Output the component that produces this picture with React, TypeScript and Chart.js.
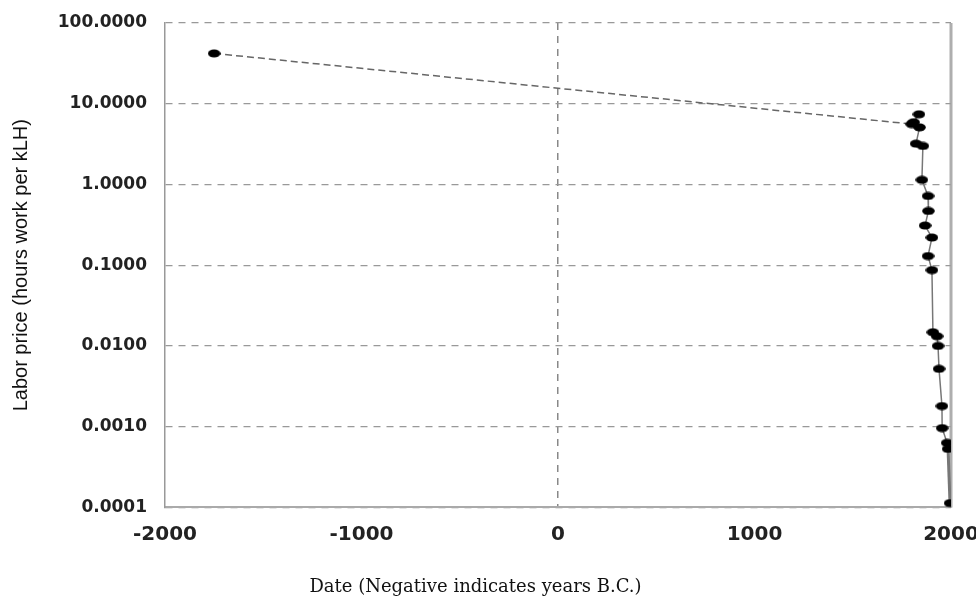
import React, { useEffect, useRef } from "react";
import { Chart, registerables } from "chart.js";

Chart.register(...registerables);

// Data (year, labor price in hours of work per kLH)
const years = [
  -1750, 1800, 1837, 1810, 1840, 1822, 1857, 1852, 1883, 1885, 1868, 1903,
  1883, 1903, 1908, 1929, 1934, 1939, 1954, 1955, 1980, 1985, 1995,
];
const laborPrice = [
  42, 5.6, 7.4, 5.9, 5.1, 3.2, 3.0, 1.14, 0.72, 0.47, 0.31, 0.22, 0.13, 0.087,
  0.0148, 0.0132, 0.01, 0.0052, 0.0018, 0.00096, 0.00063, 0.00053, 0.000113,
];
const yTickValues = [0.0001, 0.001, 0.01, 0.1, 1, 10, 100];
const xTickValues = [-2000, -1000, 0, 1000, 2000];
const yTitle = "Labor price (hours work per kLH)";
const xTitle = "Date (Negative indicates years B.C.)";

function makeDot(): HTMLCanvasElement {
  const c = document.createElement("canvas");
  c.width = 13;
  c.height = 9;
  const g = c.getContext("2d")!;
  g.fillStyle = "#000";
  g.beginPath();
  g.ellipse(6.5, 4.5, 6.3, 4, 0, 0, Math.PI * 2);
  g.fill();
  return c;
}

const rightEdgeLine = {
  id: "rightEdgeLine",
  beforeDatasetsDraw(chart: any) {
    const { ctx, chartArea, scales } = chart;
    const x = scales.x.getPixelForValue(2000);
    ctx.save();
    ctx.strokeStyle = "rgba(160,160,160,0.85)";
    ctx.lineWidth = 3;
    ctx.beginPath();
    ctx.moveTo(x, chartArea.top);
    ctx.lineTo(x, chartArea.bottom);
    ctx.stroke();
    ctx.restore();
  },
};

export default function App() {
  const ref = useRef<HTMLCanvasElement | null>(null);

  useEffect(() => {
    if (!ref.current) return;
    const dot = makeDot();
    const data = years.map((x, i) => ({ x, y: laborPrice[i] }));
    const chart = new Chart(ref.current, {
      type: "line",
      data: {
        datasets: [
          {
            data,
            borderColor: "#555",
            borderWidth: 1.5,
            pointStyle: dot as any,
            pointRadius: 5,
            tension: 0,
            segment: {
              borderDash: (ctx: any) => (ctx.p0DataIndex === 0 ? [7, 4] : []),
              borderWidth: (ctx: any) => (ctx.p0DataIndex === years.length - 2 ? 3 : 1.5),
              borderColor: (ctx: any) => (ctx.p0DataIndex === 0 ? "#666" : "#777"),
            },
          },
        ],
      },
      options: {
        animation: false,
        responsive: false,
        plugins: {
          legend: { display: false },
          tooltip: { enabled: false },
          title: {
            display: true,
            position: "bottom",
            text: xTitle,
            color: "#111",
            font: { family: "'DejaVu Serif'", size: 18, weight: "normal" },
            padding: { top: 0, bottom: 3 },
          },
        },
        layout: { padding: { top: 23, right: 25, left: 0, bottom: 0 } },
        scales: {
          x: {
            type: "linear",
            min: -2000,
            max: 2000,
            afterBuildTicks: (scale: any) => {
              scale.ticks = xTickValues.map((v) => ({ value: v }));
            },
            afterFit: (scale: any) => {
              scale.height = 69;
              scale.paddingRight = 25;
              scale.paddingLeft = 0;
            },
            ticks: {
              autoSkip: false,
              maxRotation: 0,
              padding: 15,
              color: "#222",
              font: { family: "'DejaVu Sans'", size: 20, weight: "bold" },
              callback: (v: any) => String(v),
            },
            grid: {
              drawTicks: false,
              color: (ctx: any) => (ctx.tick && ctx.tick.value === 0 ? "#888" : "transparent"),
              lineWidth: 1.5,
            },
            border: { display: true, color: "#aaa", width: 2, dash: [7, 6] },
          },
          y: {
            type: "logarithmic",
            min: 0.0001,
            max: 100,
            afterBuildTicks: (scale: any) => {
              scale.ticks = yTickValues.map((v) => ({ value: v }));
            },
            afterFit: (scale: any) => {
              scale.width = 165;
              scale.paddingTop = 0;
              scale.paddingBottom = 0;
            },
            ticks: {
              autoSkip: false,
              padding: 18,
              color: "#222",
              font: { family: "'DejaVu Sans'", size: 17, weight: "bold" },
              callback: (v: any) => Number(v).toFixed(4),
            },
            grid: {
              drawTicks: false,
              color: "#999",
              lineWidth: 1.3,
            },
            border: { display: true, color: "#999", width: 1.5, dash: [7, 6] },
            title: {
              display: true,
              text: yTitle,
              color: "#111",
              font: { family: "'Liberation Sans', Arial", size: 20 },
              padding: { top: 9, bottom: 0 },
            },
          },
        },
      },
      plugins: [rightEdgeLine],
    } as any);
    return () => chart.destroy();
  }, []);

  return (
    <div style={{ position: "fixed", left: 0, top: 0, width: 976, height: 601, background: "#fff" }}>
      <canvas ref={ref} width={976} height={601} style={{ display: "block" }} />
    </div>
  );
}
